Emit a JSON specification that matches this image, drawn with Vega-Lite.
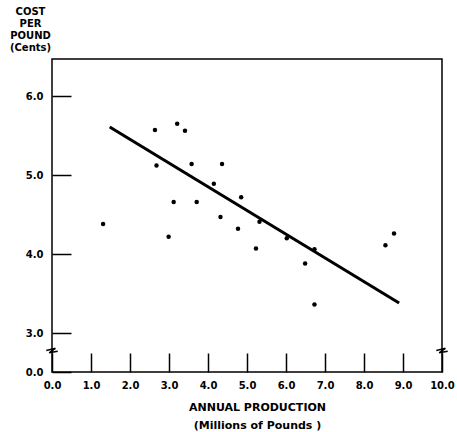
{
  "$schema": "https://vega.github.io/schema/vega-lite/v6.json",
  "width": 390,
  "height": 313,
  "autosize": {"type": "none"},
  "padding": {"left": 52, "top": 59, "right": 15, "bottom": 60},
  "background": "white",
  "config": {
    "view": {"stroke": "black", "strokeWidth": 1.5},
    "axis": {
      "domain": false,
      "grid": false,
      "tickColor": "black",
      "tickWidth": 1.5,
      "labelColor": "black",
      "labelFont": "DejaVu Sans",
      "labelFontWeight": "bold",
      "labelFontSize": 10,
      "titleColor": "black",
      "titleFont": "DejaVu Sans",
      "titleFontWeight": "bold",
      "titleFontSize": 10
    }
  },
  "datasets": {
    "obs": [
      {"production": 1.31, "cost": 4.38},
      {"production": 2.64, "cost": 5.57},
      {"production": 3.21, "cost": 5.65},
      {"production": 3.41, "cost": 5.56},
      {"production": 2.68, "cost": 5.12},
      {"production": 3.58, "cost": 5.14},
      {"production": 4.36, "cost": 5.14},
      {"production": 4.15, "cost": 4.89},
      {"production": 3.12, "cost": 4.66},
      {"production": 3.71, "cost": 4.66},
      {"production": 4.32, "cost": 4.47},
      {"production": 2.99, "cost": 4.22},
      {"production": 4.85, "cost": 4.72},
      {"production": 5.32, "cost": 4.41},
      {"production": 4.77, "cost": 4.32},
      {"production": 6.02, "cost": 4.2},
      {"production": 5.23, "cost": 4.07},
      {"production": 6.73, "cost": 4.06},
      {"production": 6.49, "cost": 3.88},
      {"production": 6.73, "cost": 3.36},
      {"production": 8.77, "cost": 4.26},
      {"production": 8.55, "cost": 4.11}
    ],
    "fit": [
      {"production": 1.48, "cost": 5.61},
      {"production": 8.9, "cost": 3.38}
    ],
    "breaks": [
      {"production": 0, "cost": 1.56},
      {"production": 10, "cost": 1.56}
    ]
  },
  "encoding": {
    "x": {
      "field": "production",
      "type": "quantitative",
      "scale": {"domain": [0, 10], "nice": false, "zero": false},
      "axis": {
        "values": [0, 1, 2, 3, 4, 5, 6, 7, 8, 9, 10],
        "format": ".1f",
        "tickSize": -19,
        "labelPadding": 27,
        "labelFlush": false,
        "title": ["ANNUAL PRODUCTION", "(Millions of Pounds )"],
        "titleFontSize": 11,
        "titleX": 205,
        "titleY": 29,
        "titleAlign": "center",
        "titleBaseline": "top",
        "titleLineHeight": 18
      }
    },
    "y": {
      "field": "cost",
      "type": "quantitative",
      "scale": {"domain": [0, 3, 6.47], "range": [313, 274, 0], "nice": false, "zero": false},
      "axis": {
        "values": [0, 3, 4, 5, 6],
        "format": ".1f",
        "tickSize": -19,
        "labelPadding": 28,
        "labelFlush": false,
        "title": ["COST", "PER", "POUND", "(Cents)"],
        "titleAngle": 0,
        "titleX": -22,
        "titleY": -53,
        "titleAlign": "center",
        "titleBaseline": "top",
        "titleLineHeight": 12
      }
    }
  },
  "layer": [
    {
      "data": {"name": "obs"},
      "mark": {"type": "circle", "size": 20, "color": "black", "opacity": 1}
    },
    {
      "data": {"name": "fit"},
      "mark": {"type": "line", "color": "black", "strokeWidth": 3}
    },
    {
      "data": {"name": "breaks"},
      "mark": {
        "type": "point",
        "shape": "M -1 -0.2 L 0.6 -0.6 L -0.5 0.2 L 1 -0.1",
        "size": 130,
        "filled": false,
        "stroke": "black",
        "strokeWidth": 1.5,
        "opacity": 1
      }
    }
  ]
}
